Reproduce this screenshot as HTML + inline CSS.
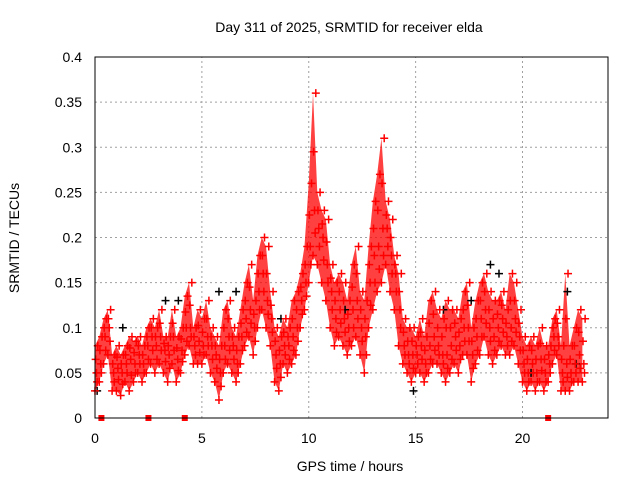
<!DOCTYPE html>
<html><head><meta charset="utf-8"><style>
body{margin:0;background:#fff}
svg{display:block;font-family:"Liberation Sans",sans-serif}
</style></head><body>
<svg id="chart" width="640" height="480" viewBox="0 0 640 480">
<rect width="640" height="480" fill="#fff"/>
<text x="349" y="32" font-size="14" text-anchor="middle">Day 311 of 2025, SRMTID for receiver elda</text>
<g id="grid"></g>
<g id="ticks"></g>
<g id="band"></g>
<g id="marks"></g>
<rect x="95" y="57" width="513" height="361" fill="none" stroke="#000" stroke-width="1"/>
<text x="350" y="471" font-size="14" text-anchor="middle">GPS time / hours</text>
<text transform="translate(19,238) rotate(-90)" font-size="14" text-anchor="middle">SRMTID / TECUs</text>
</svg>
<script>
const xTicks=[0,5,10,15,20];
const yTicks=[0,0.05,0.1,0.15,0.2,0.25,0.3,0.35,0.4];
const yTickLabels=["0","0.05","0.1","0.15","0.2","0.25","0.3","0.35","0.4"];
const times=[0,0.2,0.4,0.6,0.8,1,1.2,1.4,1.6,1.8,2,2.2,2.4,2.6,2.8,3,3.2,3.4,3.6,3.8,4,4.2,4.4,4.6,4.8,5,5.2,5.4,5.6,5.8,6,6.2,6.4,6.6,6.8,7,7.2,7.4,7.6,7.8,8,8.2,8.4,8.6,8.8,9,9.2,9.4,9.6,9.8,10,10.2,10.4,10.6,10.8,11,11.2,11.4,11.6,11.8,12,12.2,12.4,12.6,12.8,13,13.2,13.4,13.6,13.8,14,14.2,14.4,14.6,14.8,15,15.2,15.4,15.6,15.8,16,16.2,16.4,16.6,16.8,17,17.2,17.4,17.6,17.8,18,18.2,18.4,18.6,18.8,19,19.2,19.4,19.6,19.8,20,20.2,20.4,20.6,20.8,21,21.2,21.4,21.6,21.8,22,22.2,22.4,22.6,22.8];
const lowVals=[0.03,0.04,0.06,0.07,0.03,0.03,0.025,0.04,0.03,0.04,0.05,0.04,0.05,0.06,0.05,0.06,0.05,0.04,0.06,0.04,0.05,0.07,0.08,0.06,0.06,0.06,0.07,0.05,0.04,0.02,0.05,0.06,0.05,0.04,0.06,0.08,0.09,0.07,0.10,0.12,0.10,0.08,0.04,0.03,0.06,0.05,0.06,0.07,0.10,0.12,0.15,0.18,0.17,0.15,0.13,0.10,0.08,0.09,0.08,0.07,0.08,0.09,0.07,0.05,0.10,0.12,0.14,0.15,0.17,0.14,0.12,0.08,0.06,0.05,0.04,0.05,0.05,0.04,0.05,0.06,0.06,0.05,0.04,0.05,0.06,0.05,0.07,0.07,0.04,0.06,0.07,0.09,0.07,0.06,0.07,0.08,0.07,0.07,0.08,0.06,0.04,0.03,0.04,0.03,0.04,0.03,0.04,0.06,0.07,0.03,0.03,0.03,0.04,0.04,0.04];
const midVals=[0.05,0.06,0.09,0.10,0.05,0.055,0.05,0.06,0.065,0.06,0.07,0.06,0.08,0.09,0.08,0.09,0.075,0.07,0.09,0.065,0.075,0.10,0.10,0.08,0.085,0.08,0.09,0.08,0.07,0.05,0.08,0.09,0.08,0.06,0.09,0.11,0.12,0.10,0.14,0.16,0.13,0.11,0.07,0.06,0.08,0.08,0.09,0.10,0.13,0.15,0.19,0.23,0.21,0.20,0.17,0.14,0.11,0.12,0.11,0.10,0.12,0.13,0.10,0.09,0.15,0.18,0.19,0.21,0.21,0.18,0.16,0.12,0.08,0.07,0.07,0.07,0.08,0.06,0.08,0.09,0.08,0.07,0.07,0.08,0.09,0.08,0.10,0.10,0.07,0.09,0.11,0.12,0.10,0.09,0.10,0.11,0.09,0.10,0.11,0.09,0.06,0.05,0.06,0.05,0.065,0.05,0.06,0.09,0.09,0.05,0.06,0.05,0.06,0.07,0.06];
const highVals=[0.08,0.09,0.11,0.12,0.07,0.08,0.07,0.08,0.09,0.085,0.09,0.08,0.10,0.11,0.10,0.12,0.09,0.09,0.12,0.09,0.10,0.135,0.15,0.10,0.12,0.11,0.13,0.10,0.09,0.08,0.12,0.13,0.10,0.09,0.12,0.15,0.17,0.13,0.18,0.20,0.19,0.14,0.10,0.09,0.11,0.10,0.13,0.14,0.16,0.19,0.26,0.36,0.25,0.23,0.22,0.17,0.15,0.16,0.15,0.13,0.17,0.19,0.14,0.13,0.19,0.24,0.27,0.31,0.24,0.22,0.18,0.16,0.11,0.10,0.10,0.09,0.11,0.09,0.13,0.14,0.12,0.11,0.13,0.12,0.12,0.11,0.14,0.15,0.10,0.13,0.15,0.16,0.14,0.13,0.13,0.14,0.12,0.16,0.15,0.12,0.09,0.08,0.09,0.08,0.10,0.08,0.08,0.11,0.12,0.08,0.16,0.08,0.10,0.12,0.11];
const blackTimes=[0.1,1.3,3.3,3.9,5.8,6.6,8.7,11.7,14.9,16.3,17.6,18.5,18.9,20.4,22.1,22.5];
const blackVals=[0.03,0.1,0.13,0.13,0.14,0.14,0.11,0.12,0.03,0.12,0.13,0.17,0.16,0.05,0.14,0.06];
const zeroTimes=[0.3,2.5,4.2,21.2];

const NS="http://www.w3.org/2000/svg";
const X0=95,X1=608,Y0=418,Y1=57;
const xs=t=>X0+(X1-X0)*t/24;
const ys=v=>Y0-(Y0-Y1)*v/0.4;
function mk(tag,attrs,parent){const e=document.createElementNS(NS,tag);for(const k in attrs)e.setAttribute(k,attrs[k]);parent.appendChild(e);return e;}
const grid=document.getElementById('grid'),ticks=document.getElementById('ticks'),band=document.getElementById('band'),marks=document.getElementById('marks');
xTicks.forEach(t=>{
  const x=xs(t);
  if(t>0){const g=mk('line',{x1:x,y1:Y0,x2:x,y2:Y1,stroke:'#a0a0a0','stroke-dasharray':'2,3'},grid);
  
  }
  const l=mk('text',{x:x,y:443,'font-size':14,'text-anchor':'middle'},ticks);l.textContent=t;
  
  
});
yTicks.forEach((v,i)=>{
  const y=ys(v);
  if(v>0&&v<0.4){const g=mk('line',{x1:X0,y1:y,x2:X1,y2:y,stroke:'#a0a0a0','stroke-dasharray':'2,3'},grid);
  
  }
  const l=mk('text',{x:82,y:y+5,'font-size':14,'text-anchor':'end'},ticks);l.textContent=yTickLabels[i];
  
  
});
let pts=times.map((t,i)=>xs(t)+','+ys(highVals[i])).join(' ')+' '+times.slice().reverse().map((t,j)=>{const i=times.length-1-j;return xs(t)+0.01+','+ys(lowVals[i]);}).join(' ');
const poly=mk('polygon',{points:pts,fill:'rgba(255,0,0,0.75)'},band);


function plus(x,y,col,name){
  const p=mk('path',{d:`M${x-4},${y}h8M${x},${y-4}v8`,stroke:col,'stroke-width':1.5,fill:'none'},marks);
  
  
}
blackTimes.forEach((t,i)=>plus(xs(t),ys(blackVals[i]),'#000','black-point'));
times.forEach((t,i)=>{
  plus(xs(t),ys(lowVals[i]),'#f00','red-point-low');
  plus(xs(t+0.07),ys(midVals[i]),'#f00','red-point-mid');
  plus(xs(t+0.13),ys(highVals[i]),'#f00','red-point-high');
  plus(xs(t+0.1),ys((lowVals[i]+midVals[i])/2),'#f00','red-point');
  plus(xs(t+0.03),ys((midVals[i]+highVals[i])/2),'#f00','red-point');
});
zeroTimes.forEach(t=>{
  const r=mk('rect',{x:xs(t)-3,y:Y0-3,width:6,height:6,fill:'#f00'},marks);
  
  
});
</script>
</body></html>
